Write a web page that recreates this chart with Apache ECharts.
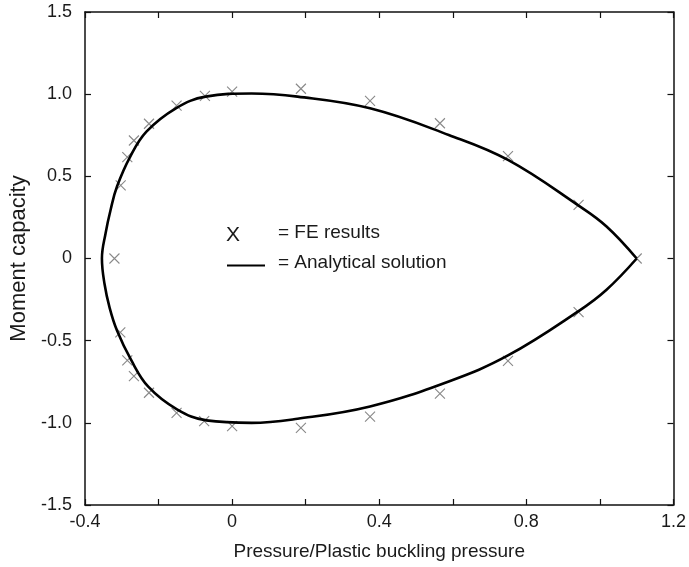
<!DOCTYPE html>
<html>
<head>
<meta charset="utf-8">
<script src="https://cdn.jsdelivr.net/npm/echarts@6/dist/echarts.min.js"></script>
<style>
  html, body { margin: 0; padding: 0; background: #fff; }
  #chart { width: 689px; height: 567px; }
</style>
</head>
<body>
<div id="chart"></div>
<script>
// Interaction diagram: normalised pressure vs moment capacity

// Finite element results (pressure ratio, moment capacity)
const feX = [0.942, 0.75, 0.565, 0.375, 0.187, 0.0, -0.074, -0.151, -0.226, -0.267, -0.285, -0.303, -0.32,
             -0.304, -0.285, -0.267, -0.226, -0.151, -0.076, 0.0, 0.187, 0.375, 0.565, 0.75, 0.942, 1.1];
const feY = [0.326, 0.623, 0.823, 0.959, 1.033, 1.015, 0.99, 0.93, 0.82, 0.718, 0.617, 0.445, 0.0,
             -0.45, -0.62, -0.716, -0.817, -0.94, -0.99, -1.02, -1.031, -0.962, -0.822, -0.623, -0.326, 0.0];

// Analytical interaction curve, traced as a closed loop from the right tip
const curveX = [1.10, 1.018, 0.942, 0.75, 0.589, 0.375, 0.178, 0.053, -0.072, -0.153, -0.233, -0.277,
                -0.313, -0.33, -0.344, -0.354, -0.347, -0.333, -0.313, -0.275, -0.228, -0.15, -0.07, 0.053,
                0.178, 0.375, 0.589, 0.75, 0.942, 1.018, 1.10];
const curveY = [0.0, 0.195, 0.322, 0.60, 0.752, 0.914, 0.985, 1.004, 0.985, 0.914, 0.772, 0.62,
                0.438, 0.30, 0.154, 0.0, -0.154, -0.30, -0.438, -0.616, -0.78, -0.918, -0.985, -1.0,
                -0.975, -0.90, -0.748, -0.59, -0.32, -0.19, 0.0];

// Axis ranges and tick labels
const xRange = [-0.4, 1.2];
const xStep = 0.2;
const xTickLabels = ['-0.4', '0', '0.4', '0.8', '1.2'];
const yRange = [-1.5, 1.5];
const yStep = 0.5;
const yTickLabels = ['-1.5', '-1.0', '-0.5', '0', '0.5', '1.0', '1.5'];

const xName = 'Pressure/Plastic buckling pressure';
const yName = 'Moment capacity';
const legendMark = 'X';
const legendFE = '= FE results';
const legendLine = '= Analytical solution';

const FONT = '"Liberation Sans", Arial, sans-serif';
const TXT = '#1a1a1a';

function xLabel(v) {
  const hit = xTickLabels.find(s => Math.abs(parseFloat(s) - v) < 1e-6);
  return hit || '';
}
function yLabel(v) {
  const hit = yTickLabels.find(s => Math.abs(parseFloat(s) - v) < 1e-6);
  return hit || '';
}

const axisLine = { show: true, onZero: false, lineStyle: { color: '#111', width: 1.5 } };
const tickIn = { show: true, inside: true, length: 6, lineStyle: { color: '#111', width: 1.2 } };

const chart = echarts.init(document.getElementById('chart'), null, { renderer: 'canvas' });
chart.setOption({
  animation: false,
  backgroundColor: '#fff',
  grid: { left: 81, right: 11, top: 12, bottom: 62, containLabel: false },
  xAxis: [
    {
      type: 'value', min: xRange[0], max: xRange[1], interval: xStep, position: 'bottom',
      axisLine, axisTick: tickIn, splitLine: { show: false },
      axisLabel: { formatter: xLabel, color: TXT, fontFamily: FONT, fontSize: 18, margin: 8 },
      name: xName, nameLocation: 'middle', nameGap: 37,
      nameTextStyle: { color: TXT, fontFamily: FONT, fontSize: 19 }
    },
    {
      type: 'value', min: xRange[0], max: xRange[1], interval: xStep, position: 'top',
      axisLine, axisTick: tickIn, splitLine: { show: false }, axisLabel: { show: false }
    }
  ],
  yAxis: [
    {
      type: 'value', min: yRange[0], max: yRange[1], interval: yStep, position: 'left',
      axisLine, axisTick: tickIn, splitLine: { show: false },
      axisLabel: { formatter: yLabel, color: TXT, fontFamily: FONT, fontSize: 18, margin: 13 },
      name: yName, nameLocation: 'middle', nameGap: 55, nameRotate: 90,
      nameTextStyle: { color: TXT, fontFamily: FONT, fontSize: 22 }
    },
    {
      type: 'value', min: yRange[0], max: yRange[1], interval: yStep, position: 'right',
      axisLine, axisTick: tickIn, splitLine: { show: false }, axisLabel: { show: false }
    }
  ],
  series: [
    {
      name: 'FE results',
      type: 'scatter',
      data: feX.map((x, i) => [x, feY[i]]),
      symbol: 'path://M0,0L10,10M10,0L0,10',
      symbolSize: 10,
      itemStyle: { color: 'rgba(0,0,0,0)', borderColor: '#6a6a6a', borderWidth: 1.1 },
      z: 2
    },
    {
      name: 'Analytical solution',
      type: 'line',
      data: curveX.map((x, i) => [x, curveY[i]]),
      smooth: 0.4,
      showSymbol: false,
      lineStyle: { color: '#000', width: 2.6 },
      z: 3
    }
  ],
  graphic: [
    {
      type: 'text', x: 226, y: 235,
      style: { text: legendMark, fill: TXT, font: '21px ' + FONT, verticalAlign: 'middle' }
    },
    {
      type: 'text', x: 278, y: 233,
      style: { text: legendFE, fill: TXT, font: '19px ' + FONT, verticalAlign: 'middle' }
    },
    {
      type: 'line',
      shape: { x1: 227, y1: 265.5, x2: 265, y2: 265.5 },
      style: { stroke: '#000', lineWidth: 2 }
    },
    {
      type: 'text', x: 278, y: 263,
      style: { text: legendLine, fill: TXT, font: '19px ' + FONT, verticalAlign: 'middle' }
    }
  ]
});
</script>
</body>
</html>
